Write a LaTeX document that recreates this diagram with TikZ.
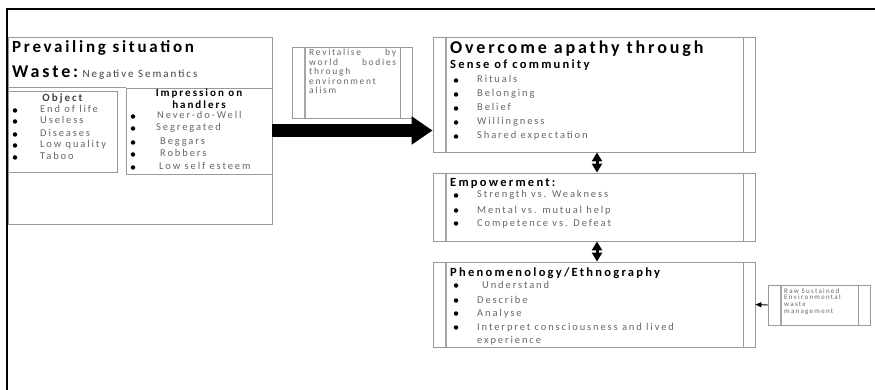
\documentclass[tikz,border=0pt]{standalone}
\usepackage{fontspec}
\setmainfont{Carlito}[LetterSpace=18]
\newfontfamily\headfont{Carlito}[LetterSpace=16]
\usetikzlibrary{arrows.meta}

\tikzset{
    panel/.style={draw=gray!80, line width=0.8pt, inner sep=0pt},
    sidebox/.style={panel, path picture={
        \draw[gray!70, line width=1.2pt] ([xshift=13pt]path picture bounding box.north west) -- ([xshift=13pt]path picture bounding box.south west);
        \draw[gray!80, line width=0.8pt] ([xshift=-12pt]path picture bounding box.north east) -- ([xshift=-12pt]path picture bounding box.south east);}},
    title/.style={anchor=base west, inner sep=0pt, font=\headfont\bfseries\fontsize{18}{20}\selectfont},
    head/.style={anchor=base west, inner sep=0pt, font=\bfseries\fontsize{12.5}{14}\selectfont},
    item/.style={anchor=base west, inner sep=0pt, text=black!60, font=\fontsize{10.5}{12}\selectfont},
    dot/.style={circle, fill=black, inner sep=0pt, minimum size=4.5pt},
    bigarrow/.style={line width=13pt, -{Triangle[length=21pt,width=27pt]}},
    dblarrow/.style={line width=3pt, {Triangle[length=9pt,width=10pt]}-{Triangle[length=9pt,width=10pt]}},
    smallarrow/.style={line width=1pt, -{Triangle[length=6pt,width=5pt]}}
}

\begin{document}
\begin{tikzpicture}[x=1pt, y=-1pt]
    \useasboundingbox (0,0) rectangle (875,390);
    % Frame
    \draw[line width=2pt] (875,9) -- (7,9) -- (7,390);
    % Prevailing situation
    \node[panel, minimum width=264pt, minimum height=187pt] (Prevail) at (140,130.5) {};
    \node[title, font=\headfont\bfseries\fontsize{17}{18}\selectfont] (Prevail-title) at (12,53) {Prevailing situation};
    \node[title] (Waste) at (12,78) {Waste:};
    \node[item, text=black!75, font=\fontsize{11}{12}\selectfont] (Semantics) at ([xshift=4pt]Waste.base east) {Negative Semantics};
    % Object
    \node[panel, minimum width=109pt, minimum height=81pt] (Object) at (62.5,131.5) {};
    \node[head, anchor=base, text=black!75, font=\bfseries\fontsize{11}{12}\selectfont] (Object-title) at (62.5,102) {Object};
    \foreach \name/\y [count=\i] in {End of life/113,Useless/124,Diseases/137,Low quality/148,Taboo/160} {
        \node[dot] (ObjDot-\i) at (15,\y-2.5) {};
        \node[item] (Object-\i) at (40,\y) {\name};
    }
    % Impression on handlers
    \node[panel, minimum width=146pt, minimum height=86pt] (Impress) at (199,131) {};
    \draw[gray!80, line width=0.8pt] (Prevail.west |- Impress.north) -- (Impress.north west);
    \node[head, anchor=base, font=\bfseries\fontsize{11}{12}\selectfont] (Impress-title) at (199,97) {Impression on};
    \node[head, anchor=base, font=\bfseries\fontsize{11}{12}\selectfont] (Impress-title2) at (199,109) {handlers};
    \foreach \name/\x/\y [count=\i] in {Never-do-Well/157/119,Segregated/156/131,Beggars/160/145,Robbers/160/157,Low self esteem/159/170} {
        \node[dot] (ImpDot-\i) at (133,\y-2.5) {};
        \node[item] (Impress-\i) at (\x,\y) {\name};
    }
    % Revitalise
    \node[sidebox, minimum width=120pt, minimum height=71pt] (Revital) at (352,82.5) {};
    \node[anchor=north west, inner sep=0pt, text width=87pt, align=left, text=black!60,
        font=\fontsize{9.5}{9.5}\selectfont] (Revital-text) at (309,49)
        {Revitalise\hfill by\\world\hfill bodies\\through\\environment\\alism};
    % Overcome apathy
    \node[sidebox, minimum width=322pt, minimum height=115pt] (Overcome) at (594,94.5) {};
    \node[title] (Overcome-title) at (450,54) {Overcome apathy through};
    \node[head] (Sense) at (450,69) {Sense of community};
    \foreach \name/\y [count=\i] in {Rituals/83,Belonging/97,Belief/111,Willingness/125,Shared expectation/139} {
        \node[dot] (SenseDot-\i) at (456,\y-2.5) {};
        \node[item] (Sense-\i) at (477,\y) {\name};
    }
    % Empowerment
    \node[sidebox, minimum width=322pt, minimum height=68pt] (Empower) at (594,207) {};
    \node[head] (Power) at (450,186) {Empowerment:};
    \foreach \name/\y [count=\i] in {Strength vs. Weakness/198,Mental vs. mutual help/213,Competence vs. Defeat/226} {
        \node[dot] (PowerDot-\i) at (456,\y-2.5) {};
        \node[item] (Power-\i) at (477,\y) {\name};
    }
    % Phenomenology
    \node[sidebox, minimum width=322pt, minimum height=85pt] (Pheno) at (594,304.5) {};
    \node[head] (Pheno-title) at (450,276) {Phenomenology/Ethnography};
    \foreach \name/\x/\y [count=\i] in {Understand/482/288,Describe/477/303,Analyse/477/316,Interpret consciousness and lived/477/330} {
        \node[dot] (PhenoDot-\i) at (456,\y-2.5) {};
        \node[item] (Pheno-\i) at (\x,\y) {\name};
    }
    \node[item] (Pheno-5) at (477,343) {experience};
    % Raw sustained
    \node[sidebox, minimum width=102pt, minimum height=40pt] (Raw) at (819,305) {};
    \node[anchor=north west, inner sep=0pt, align=left, text=black!60,
        font=\fontsize{7}{6.8}\selectfont] (Raw-text) at (784,288)
        {Raw Sustained\\Environmental\\waste\\management};
    % Arrows
    \draw[bigarrow] (Prevail.east) -- (Prevail.east -| Overcome.west);
    \draw[dblarrow] ([xshift=3pt]Overcome.south) -- ([xshift=3pt]Empower.north);
    \draw[dblarrow] ([xshift=3pt]Empower.south) -- ([xshift=3pt]Pheno.north);
    \draw[smallarrow] (Raw.west) -- (Pheno.east);
\end{tikzpicture}
\end{document}
